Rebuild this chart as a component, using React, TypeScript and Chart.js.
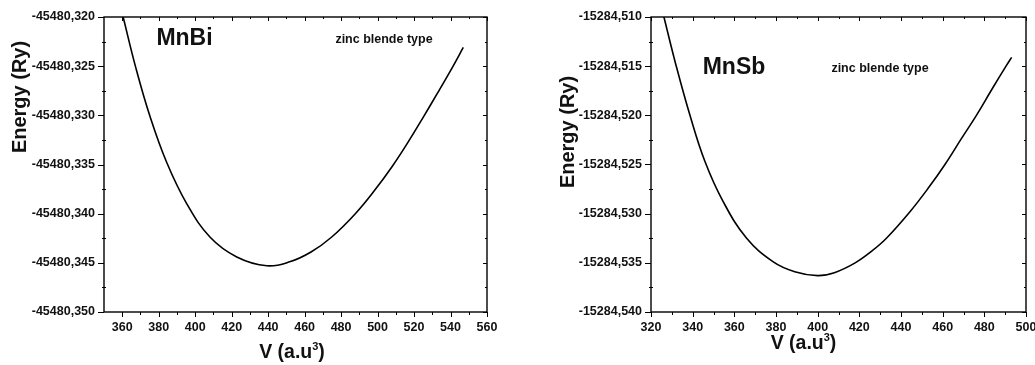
import React, { useEffect, useRef } from "react";
import { Chart, registerables } from "chart.js";

Chart.register(...registerables);

// ---------- data ----------
const MNBI_V = [360.5, 367.5, 375.2, 384.4, 395.4, 408.2, 422.8, 439.3, 451.8, 463.5, 474.7, 487.8, 498.5, 508.0, 516.8, 525.0, 533.0, 540.8, 547.0];
const MNBI_E = [
  -45480.32, -45480.3252, -45480.3301, -45480.3348, -45480.339, -45480.3424, -45480.3444, -45480.3453,
  -45480.3449, -45480.3439, -45480.3424, -45480.34, -45480.3376, -45480.3352, -45480.3327, -45480.3302,
  -45480.3277, -45480.3252, -45480.3231,
];
const MNSB_V = [326.2, 332.0, 338.7, 345.9, 354.7, 365.9, 378.7, 389.0, 400.0, 408.0, 418.0, 426.0, 433.0, 444.3, 453.1, 461.1, 468.9, 476.2, 483.5, 490.7, 493.1];
const MNSB_E = [
  -15284.51, -15284.5149, -15284.52, -15284.5247, -15284.5288, -15284.5325, -15284.5349, -15284.5359,
  -15284.5363, -15284.536, -15284.535, -15284.5338, -15284.5325, -15284.5298, -15284.5274, -15284.525,
  -15284.5224, -15284.52, -15284.5174, -15284.5149, -15284.5141,
];

const MNBI_X_TICKS = [360, 380, 400, 420, 440, 460, 480, 500, 520, 540, 560];
const MNBI_Y_TICKS = [-45480.35, -45480.345, -45480.34, -45480.335, -45480.33, -45480.325, -45480.32];
const MNSB_X_TICKS = [320, 340, 360, 380, 400, 420, 440, 460, 480, 500];
const MNSB_Y_TICKS = [-15284.54, -15284.535, -15284.53, -15284.525, -15284.52, -15284.515, -15284.51];

const TITLE_MNBI = "MnBi";
const TITLE_MNSB = "MnSb";
const SUBTITLE = "zinc blende type";
const Y_TITLE = "Energy (Ry)";
const X_TITLE_MAIN = "V (a.u";
const X_TITLE_SUP = "3";
const X_TITLE_END = ")";

const FONT = "'Liberation Sans', Arial, Helvetica, sans-serif";
const INK = "#111";

type PanelCfg = {
  V: number[];
  E: number[];
  xTicks: number[];
  yTicks: number[];
  xMin: number;
  xMax: number;
  width: number;
  left: number;
  yAxisWidth: number;
  padRight: number;
  label: string;
  labelPos: [number, number];
  subPos: [number, number];
  yTitlePos: [number, number];
  xTitlePos: [number, number];
};

const framePlugin = {
  id: "frame",
  afterDraw(chart: any, _args: any, opts: any) {
    const { ctx, chartArea: a, scales } = chart;
    const xs = scales.x;
    const ys = scales.y;
    ctx.save();
    ctx.strokeStyle = "#000";
    ctx.lineWidth = 1.4;
    ctx.strokeRect(a.left, a.top, a.right - a.left, a.bottom - a.top);
    ctx.lineWidth = 1;
    const xMaj: number[] = opts.xTicks;
    const yMaj: number[] = opts.yTicks;
    const mids = (arr: number[]) => arr.slice(1).map((v, i) => (v + arr[i]) / 2);
    const line = (x1: number, y1: number, x2: number, y2: number) => {
      ctx.beginPath();
      ctx.moveTo(x1, y1);
      ctx.lineTo(x2, y2);
      ctx.stroke();
    };
    const xAll = [...xMaj.map((v) => [v, 1]), ...mids(xMaj).map((v) => [v, 0])];
    xAll.forEach(([v, major]) => {
      const p = Math.round(xs.getPixelForValue(v)) + 0.5;
      if (p < a.left - 0.5 || p > a.right + 0.5) return;
      line(p, a.bottom, p, a.bottom + (major ? 5 : 3));
      line(p, a.top, p, a.top + (major ? 4 : 2));
    });
    const yAll = [...yMaj.map((v) => [v, 1]), ...mids(yMaj).map((v) => [v, 0])];
    yAll.forEach(([v, major]) => {
      const p = Math.round(ys.getPixelForValue(v)) + 0.5;
      if (major) line(a.left - 6, p, a.left, p);
      else line(a.left - 2, p, a.left + 2, p);
      line(a.right, p, a.right - (major ? 4 : 2), p);
    });
    ctx.restore();
  },
};

const textPlugin = {
  id: "texts",
  afterDraw(chart: any, _args: any, opts: any) {
    const { ctx } = chart;
    ctx.save();
    ctx.fillStyle = INK;
    ctx.textAlign = "center";
    ctx.textBaseline = "middle";
    ctx.font = `bold 23px ${FONT}`;
    ctx.fillText(opts.label, opts.labelPos[0], opts.labelPos[1]);
    ctx.font = `bold 12.5px ${FONT}`;
    ctx.fillText(SUBTITLE, opts.subPos[0], opts.subPos[1]);
    // y title
    ctx.save();
    ctx.translate(opts.yTitlePos[0], opts.yTitlePos[1]);
    ctx.rotate(-Math.PI / 2);
    ctx.font = `bold 20px ${FONT}`;
    ctx.fillText(Y_TITLE, 0, 0);
    ctx.restore();
    // x title with superscript
    const big = `bold 19.5px ${FONT}`;
    const small = `bold 11px ${FONT}`;
    ctx.textAlign = "left";
    ctx.font = big;
    const w1 = ctx.measureText(X_TITLE_MAIN).width;
    const w3 = ctx.measureText(X_TITLE_END).width;
    ctx.font = small;
    const w2 = ctx.measureText(X_TITLE_SUP).width;
    let x = opts.xTitlePos[0] - (w1 + w2 + w3) / 2;
    const y = opts.xTitlePos[1];
    ctx.font = big;
    ctx.fillText(X_TITLE_MAIN, x, y);
    x += w1;
    ctx.font = small;
    ctx.fillText(X_TITLE_SUP, x, y - 6);
    x += w2;
    ctx.font = big;
    ctx.fillText(X_TITLE_END, x, y);
    ctx.restore();
  },
};

function Panel({ cfg }: { cfg: PanelCfg }) {
  const ref = useRef<HTMLCanvasElement | null>(null);
  useEffect(() => {
    if (!ref.current) return;
    const data = cfg.V.map((v, i) => ({ x: v, y: cfg.E[i] }));
    const tickFont = { family: FONT, size: 12.5, weight: "bold" as const };
    const chart = new Chart(ref.current, {
      type: "line",
      data: {
        datasets: [
          {
            data,
            borderColor: "#000",
            borderWidth: 1.6,
            pointRadius: 0,
            fill: false,
            tension: 0.4,
          },
        ],
      },
      options: {
        responsive: false,
        animation: false,
        events: [],
        layout: { padding: { top: 17, right: cfg.padRight, left: 0, bottom: 0 } },
        plugins: {
          legend: { display: false },
          tooltip: { enabled: false },
          frame: { xTicks: cfg.xTicks, yTicks: cfg.yTicks },
          texts: {
            label: cfg.label,
            labelPos: cfg.labelPos,
            subPos: cfg.subPos,
            yTitlePos: cfg.yTitlePos,
            xTitlePos: cfg.xTitlePos,
          },
        } as any,
        scales: {
          x: {
            type: "linear",
            min: cfg.xMin,
            max: cfg.xMax,
            grid: { display: false, drawTicks: false, tickLength: 0 },
            border: { display: false },
            afterBuildTicks: (s: any) => {
              s.ticks = cfg.xTicks.map((v) => ({ value: v }));
            },
            afterFit: (s: any) => {
              s.height = 53;
              s.paddingLeft = 0;
              s.paddingRight = 0;
            },
            ticks: {
              font: tickFont,
              color: INK,
              padding: 8,
              maxRotation: 0,
              autoSkip: false,
              callback: (v: any) => String(v),
            },
          },
          y: {
            type: "linear",
            min: cfg.yTicks[0],
            max: cfg.yTicks[cfg.yTicks.length - 1],
            grid: { display: false, drawTicks: false, tickLength: 0 },
            border: { display: false },
            afterBuildTicks: (s: any) => {
              s.ticks = cfg.yTicks.map((v) => ({ value: v }));
            },
            afterFit: (s: any) => {
              s.width = cfg.yAxisWidth;
              s.paddingTop = 0;
              s.paddingBottom = 0;
            },
            ticks: {
              font: tickFont,
              color: INK,
              padding: 9,
              autoSkip: false,
              callback: (v: any) => Number(v).toFixed(3).replace(".", ","),
            },
          },
        },
      },
      plugins: [framePlugin, textPlugin],
    });
    return () => chart.destroy();
  }, [cfg]);
  return (
    <canvas
      ref={ref}
      width={cfg.width}
      height={365}
      style={{ position: "absolute", left: cfg.left, top: 0, width: cfg.width, height: 365 }}
    />
  );
}

const LEFT: PanelCfg = {
  V: MNBI_V,
  E: MNBI_E,
  xTicks: MNBI_X_TICKS,
  yTicks: MNBI_Y_TICKS,
  xMin: 350,
  xMax: 560,
  width: 520,
  left: 0,
  yAxisWidth: 104,
  padRight: 33,
  label: TITLE_MNBI,
  labelPos: [184.5, 39],
  subPos: [384, 40],
  yTitlePos: [20, 97],
  xTitlePos: [292, 353],
};

const RIGHT: PanelCfg = {
  V: MNSB_V,
  E: MNSB_E,
  xTicks: MNSB_X_TICKS,
  yTicks: MNSB_Y_TICKS,
  xMin: 320,
  xMax: 500,
  width: 515,
  left: 520,
  yAxisWidth: 131,
  padRight: 9,
  label: TITLE_MNSB,
  labelPos: [214, 68],
  subPos: [360, 69],
  yTitlePos: [48, 132],
  xTitlePos: [283.5, 344],
};

export default function App() {
  return (
    <div style={{ position: "fixed", left: 0, top: 0, width: 1035, height: 365, background: "#fff", overflow: "hidden" }}>
      <Panel cfg={LEFT} />
      <Panel cfg={RIGHT} />
    </div>
  );
}
